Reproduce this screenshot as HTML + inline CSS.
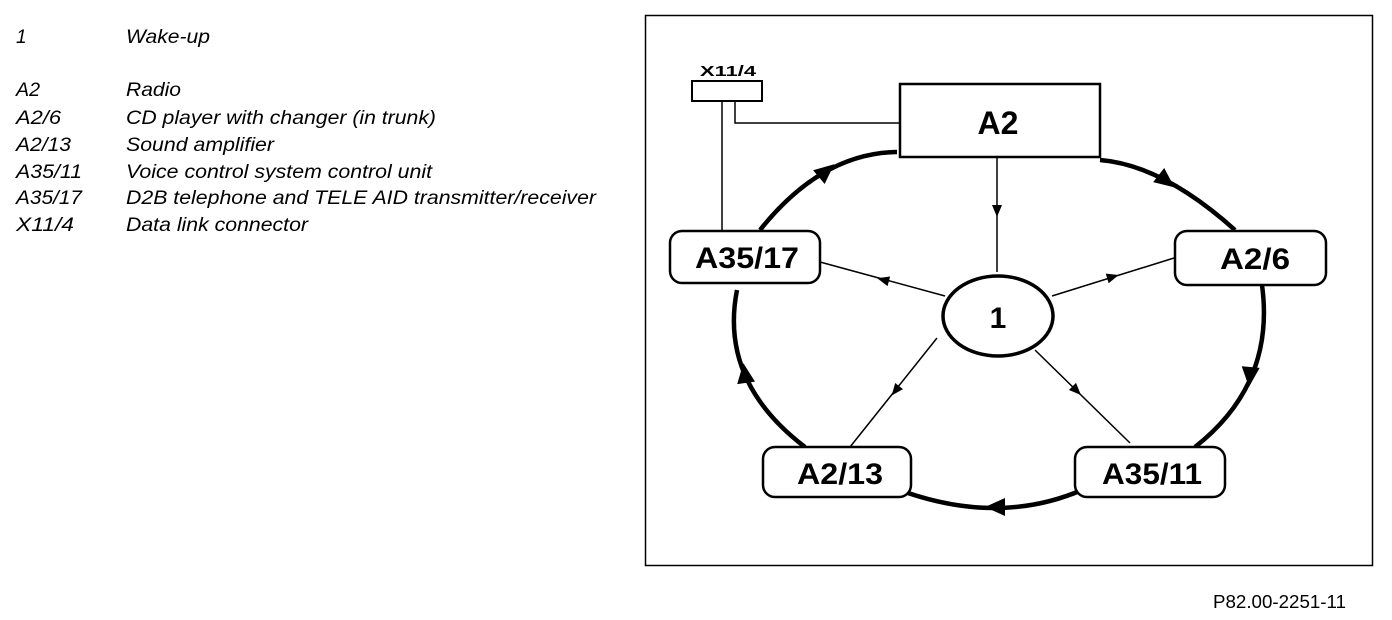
<!DOCTYPE html>
<html><head><meta charset="utf-8"><style>
html,body{margin:0;padding:0;background:#fff;}
svg{display:block;}
</style></head><body>
<svg width="1392" height="620" viewBox="0 0 1392 620" xmlns="http://www.w3.org/2000/svg">
<g font-family="Liberation Sans, sans-serif" font-style="italic" font-size="19" fill="#000" lengthAdjust="spacingAndGlyphs">
<text x="16" y="43">1</text><text x="126" y="43" textLength="84" lengthAdjust="spacingAndGlyphs">Wake-up</text>
<text x="16" y="96" textLength="24" lengthAdjust="spacingAndGlyphs">A2</text><text x="126" y="96" textLength="55" lengthAdjust="spacingAndGlyphs">Radio</text>
<text x="16" y="124" textLength="45" lengthAdjust="spacingAndGlyphs">A2/6</text><text x="126" y="124" textLength="310" lengthAdjust="spacingAndGlyphs">CD player with changer (in trunk)</text>
<text x="16" y="151" textLength="55" lengthAdjust="spacingAndGlyphs">A2/13</text><text x="126" y="151" textLength="148" lengthAdjust="spacingAndGlyphs">Sound amplifier</text>
<text x="16" y="178" textLength="66" lengthAdjust="spacingAndGlyphs">A35/11</text><text x="126" y="178" textLength="306" lengthAdjust="spacingAndGlyphs">Voice control system control unit</text>
<text x="16" y="204" textLength="66" lengthAdjust="spacingAndGlyphs">A35/17</text><text x="126" y="204" textLength="470" lengthAdjust="spacingAndGlyphs">D2B telephone and TELE AID transmitter/receiver</text>
<text x="16" y="231" textLength="58" lengthAdjust="spacingAndGlyphs">X11/4</text><text x="126" y="231" textLength="182" lengthAdjust="spacingAndGlyphs">Data link connector</text>
</g>
<text x="1213" y="608" font-family="Liberation Sans, sans-serif" font-size="18" textLength="133" lengthAdjust="spacingAndGlyphs">P82.00-2251-11</text>

<rect x="645.5" y="15.5" width="727" height="550" fill="none" stroke="#000" stroke-width="1.5"/>

<g fill="none" stroke="#000" stroke-width="4.5">
<path d="M1100,160 Q1162.5,165 1235,230"/>
<path d="M1262,285 Q1275.5,384 1195,447"/>
<path d="M1082,490 Q1000.5,525 905,492"/>
<path d="M805,447 Q719,381.5 737,290"/>
<path d="M760,230 Q821.5,153 897,152"/>
</g>
<g fill="#000">
<polygon points="12,0 -8,-9 -8,9" transform="translate(825,172) rotate(-40)"/>
<polygon points="12,0 -8,-9 -8,9" transform="translate(1165,180) rotate(38)"/>
<polygon points="12,0 -8,-9 -8,9" transform="translate(1250,375) rotate(95)"/>
<polygon points="12,0 -8,-9 -8,9" transform="translate(997,507) rotate(180)"/>
<polygon points="12,0 -8,-9 -8,9" transform="translate(745,375) rotate(-98)"/>
</g>

<g stroke="#000" stroke-width="1.5" fill="none">
<line x1="997" y1="157" x2="997" y2="272"/>
<line x1="945" y1="296" x2="820" y2="262"/>
<line x1="1052" y1="296" x2="1174" y2="258"/>
<line x1="937" y1="338" x2="850" y2="447"/>
<line x1="1035" y1="350" x2="1130" y2="443"/>
<polyline points="900,123 735,123 735,101"/>
<line x1="722" y1="101" x2="722" y2="231"/>
</g>
<g fill="#000">
<polygon points="7,0 -5,-5 -5,5" transform="translate(997,210) rotate(90)"/>
<polygon points="7,0 -5,-5 -5,5" transform="translate(884,280) rotate(195)"/>
<polygon points="7,0 -5,-5 -5,5" transform="translate(1112,277) rotate(-17)"/>
<polygon points="7,0 -5,-5 -5,5" transform="translate(896,390) rotate(128)"/>
<polygon points="7,0 -5,-5 -5,5" transform="translate(1076,390) rotate(45)"/>
</g>

<rect x="692" y="81" width="70" height="20" fill="#fff" stroke="#000" stroke-width="2"/>
<text x="700" y="76" font-family="Liberation Sans, sans-serif" font-weight="bold" font-size="15" textLength="56" lengthAdjust="spacingAndGlyphs">X11/4</text>

<rect x="900" y="84" width="200" height="73" fill="#fff" stroke="#000" stroke-width="2.5"/>
<text x="998" y="134" text-anchor="middle" font-family="Liberation Sans, sans-serif" font-weight="bold" font-size="32">A2</text>

<g fill="#fff" stroke="#000" stroke-width="2.5">
<rect x="670" y="231" width="150" height="52" rx="12"/>
<rect x="1175" y="231" width="151" height="54" rx="12"/>
<rect x="763" y="447" width="148" height="50" rx="12"/>
<rect x="1075" y="447" width="150" height="50" rx="12"/>
<ellipse cx="998" cy="316" rx="55" ry="40" stroke-width="3.5"/>
</g>
<g font-family="Liberation Sans, sans-serif" font-weight="bold" font-size="30" text-anchor="middle" fill="#000">
<text x="747" y="268" textLength="104" lengthAdjust="spacingAndGlyphs">A35/17</text>
<text x="1255" y="269" textLength="70" lengthAdjust="spacingAndGlyphs">A2/6</text>
<text x="840" y="484" textLength="86" lengthAdjust="spacingAndGlyphs">A2/13</text>
<text x="1152" y="484" textLength="100" lengthAdjust="spacingAndGlyphs">A35/11</text>
<text x="998" y="328">1</text>
</g>
</svg>
</body></html>
